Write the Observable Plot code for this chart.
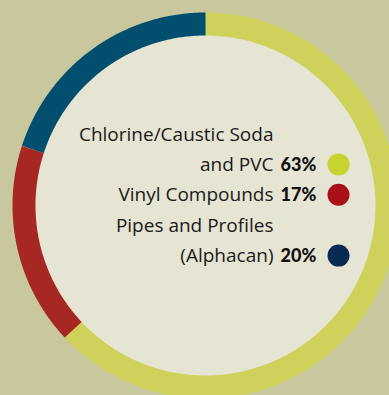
<!DOCTYPE html>
<html>
<head>
<meta charset="utf-8">
<script src="https://cdn.jsdelivr.net/npm/d3@7"></script>
<script src="https://cdn.jsdelivr.net/npm/@observablehq/plot@0.6"></script>
<style>
  html, body { margin: 0; padding: 0; background: #c9c79d; overflow: hidden; }
  #chart svg { display: block; background: #c9c79d; }
  #chart g[aria-label="labels"] text { letter-spacing: 0.4px; }
</style>
</head>
<body>
<div id="chart"></div>
<script>
// ---- data ----
const categories = ["Chlorine/Caustic Soda\nand PVC", "Vinyl Compounds", "Pipes and Profiles\n(Alphacan)"];
const shares = [63, 17, 20];
const shareLabels = ["63%", "17%", "20%"];
const ringColors = ["#cfd25a", "#a72723", "#024e6e"];
const dotColors = ["#c6d331", "#a80f17", "#082a52"];

// ---- layout ----
const W = 389, H = 395;
const cx = 205, cy = 205, rOuter = 193, rInner = 170;
const rMid = (rOuter + rInner) / 2, ringW = rOuter - rInner;
const fontSize = 19, lineH = 30.4, firstBaseline = 140;
const labelX = 273, pctX = 280, dotX = 338;

// ring geometry from the pie layout of the data
const arcs = d3.pie().sort(null).value(d => d)(shares);
const ringPts = [];
arcs.forEach((a, i) => {
  const step = Math.PI / 360;
  const n = Math.max(2, Math.ceil((a.endAngle - a.startAngle) / step));
  for (let k = 0; k <= n; k++) {
    const t = a.startAngle + (a.endAngle - a.startAngle) * k / n;
    ringPts.push({cat: categories[i], color: ringColors[i], x: cx + rMid * Math.sin(t), y: cy - rMid * Math.cos(t)});
  }
});

// legend rows
let cum = 0;
const rows = categories.map((c, i) => {
  const nLines = c.split("\n").length;
  cum += nLines;
  const baseline = firstBaseline + (cum - 1) * lineH;
  return {label: c, pct: shareLabels[i], color: dotColors[i], baseline, dotY: baseline - 6.5};
});

const plot = Plot.plot({
  width: W, height: H, margin: 0,
  x: {type: "identity", axis: null},
  y: {type: "identity", axis: null},
  style: {background: "#c9c79d", overflow: "hidden"},
  marks: [
    Plot.dot([{x: cx, y: cy}], {x: "x", y: "y", r: rInner + 1, fill: "#e6e4d3", stroke: null}),
    Plot.line(ringPts, {x: "x", y: "y", z: "cat", stroke: "color", strokeWidth: ringW, strokeLinecap: "butt", strokeLinejoin: "round"}),
    Plot.text(rows, {x: labelX, y: "baseline", text: "label", textAnchor: "end", lineAnchor: "bottom",
      lineHeight: lineH / fontSize, fontSize, fontFamily: "'Open Sans', Lato, sans-serif", fill: "#1a1a1a", ariaLabel: "labels"}),
    Plot.text(rows, {x: pctX, y: "baseline", text: "pct", textAnchor: "start", lineAnchor: "bottom",
      fontSize: 18, fontWeight: 900, fontFamily: "Lato, 'DejaVu Sans', sans-serif", fill: "#111"}),
    Plot.dot(rows, {x: dotX, y: "dotY", r: 11, fill: "color", stroke: null})
  ]
});
document.getElementById("chart").appendChild(plot);
</script>
</body>
</html>
